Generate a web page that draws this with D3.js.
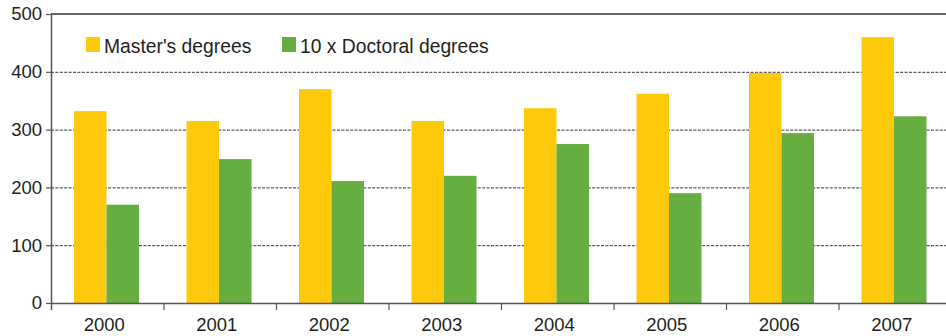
<!DOCTYPE html>
<html>
<head>
<meta charset="utf-8">
<script src="https://cdn.jsdelivr.net/npm/d3@7/dist/d3.min.js"></script>
<style>
  html, body { margin: 0; padding: 0; background: #fff; }
  svg { display: block; font-family: "Liberation Sans", Arial, Helvetica, sans-serif; }
</style>
</head>
<body>
<svg id="chart" width="946" height="336"></svg>
<script>
// Graduate degrees awarded per year
const years = ["2000", "2001", "2002", "2003", "2004", "2005", "2006", "2007"];
const masters = [332, 315, 370, 315, 337, 362, 398, 460];
const doctoralX10 = [170, 249, 211, 220, 275, 190, 294, 323];
const seriesNames = ["Master's degrees", "10 x Doctoral degrees"];
const seriesColors = ["#FFC90B", "#66AE3F"];
const yTicks = [0, 100, 200, 300, 400, 500];

const svg = d3.select("#chart");
const plotLeft = 51, plotRight = 951, plotTop = 14, plotBottom = 303;

const x = d3.scaleBand().domain(years).range([plotLeft, plotRight]).paddingInner(0).paddingOuter(0);
const inner = d3.scaleBand().domain(seriesNames).range([23, 23 + 65]);
const y = d3.scaleLinear().domain([0, 500]).range([plotBottom, plotTop]);

// Dashed gridlines for interior ticks
svg.append("g")
  .selectAll("line")
  .data(yTicks.filter(d => d > 0 && d < 500))
  .join("line")
  .attr("x1", plotLeft).attr("x2", 946)
  .attr("y1", d => y(d) + 0.5).attr("y2", d => y(d) + 0.5)
  .attr("stroke", "#333")
  .attr("stroke-width", 1)
  .attr("stroke-dasharray", "3,1.4");

// Bars
const groups = svg.append("g")
  .selectAll("g")
  .data(years.map((yr, i) => ({ yr, vals: [masters[i], doctoralX10[i]] })))
  .join("g")
  .attr("transform", d => `translate(${x(d.yr)},0)`);

groups.selectAll("rect")
  .data(d => d.vals.map((v, j) => ({ v, name: seriesNames[j], color: seriesColors[j] })))
  .join("rect")
  .attr("x", d => inner(d.name))
  .attr("width", inner.bandwidth())
  .attr("y", d => y(d.v))
  .attr("height", d => y(0) - y(d.v))
  .attr("fill", d => d.color);

// Top frame line at 500
svg.append("line")
  .attr("x1", plotLeft).attr("x2", 946)
  .attr("y1", y(500)).attr("y2", y(500))
  .attr("stroke", "#666").attr("stroke-width", 2);

// Y axis
const yAxis = svg.append("g")
  .attr("transform", `translate(${plotLeft},0)`)
  .call(d3.axisLeft(y).tickValues(yTicks).tickSize(5).tickPadding(4).tickSizeOuter(0));
yAxis.select(".domain").remove();
yAxis.append("line")
  .attr("x1", 0.5).attr("x2", 0.5)
  .attr("y1", y(500)).attr("y2", plotBottom + 7)
  .attr("stroke", "#555").attr("stroke-width", 1.5);
yAxis.selectAll(".tick line").attr("stroke", "#555").attr("stroke-width", 1.2);
yAxis.selectAll(".tick text")
  .attr("font-size", 18.5)
  .attr("fill", "#231f20")
  .attr("font-family", "Liberation Sans, Arial, sans-serif");

// X axis
const xAxis = svg.append("g")
  .attr("transform", `translate(0,${plotBottom})`)
  .call(d3.axisBottom(x).tickSize(0).tickPadding(15));
xAxis.select(".domain").remove();
xAxis.append("line")
  .attr("x1", plotLeft).attr("x2", 946)
  .attr("y1", 0.5).attr("y2", 0.5)
  .attr("stroke", "#555").attr("stroke-width", 1.5);
xAxis.selectAll(".tick text")
  .attr("font-size", 18.5)
  .attr("fill", "#231f20")
  .attr("dx", -3)
  .attr("font-family", "Liberation Sans, Arial, sans-serif");
// Separator ticks between year groups
xAxis.append("g")
  .selectAll("line")
  .data(years.slice(1))
  .join("line")
  .attr("x1", d => x(d) + 0.5).attr("x2", d => x(d) + 0.5)
  .attr("y1", 0).attr("y2", 7)
  .attr("stroke", "#555").attr("stroke-width", 1.2);

// Legend
const legendX = [86, 282];
const legend = svg.append("g")
  .selectAll("g")
  .data(seriesNames.map((n, i) => ({ n, c: seriesColors[i], lx: legendX[i] })))
  .join("g")
  .attr("transform", d => `translate(${d.lx},37)`);
legend.append("rect")
  .attr("width", 14).attr("height", 15)
  .attr("fill", d => d.c);
legend.append("text")
  .attr("x", 18).attr("y", 15.5)
  .attr("font-size", 19.3)
  .attr("fill", "#231f20")
  .text(d => d.n);
</script>
</body>
</html>
